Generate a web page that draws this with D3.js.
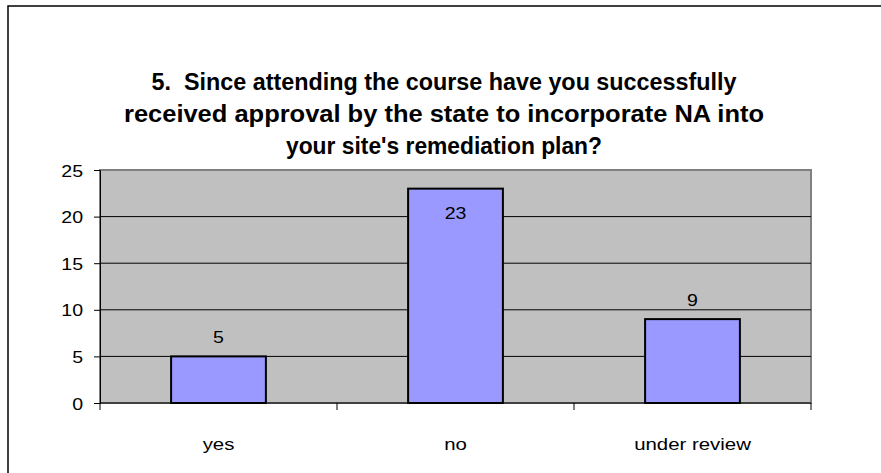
<!DOCTYPE html>
<html>
<head>
<meta charset="utf-8">
<script src="https://cdn.jsdelivr.net/npm/d3@7"></script>
<style>
  body { margin: 0; background: #fff; }
  svg { display: block; font-family: "Liberation Sans", Arial, sans-serif; }
  text { white-space: pre; }
</style>
</head>
<body>
<script>
let categories = ['yes', 'no', 'under review']
let values = [5, 23, 9]
let yTicks = [0, 5, 10, 15, 20, 25]
let titleLines = [
  '5.  Since attending the course have you successfully',
  'received approval by the state to incorporate NA into',
  "your site's remediation plan?"
]
let titleWidths = [585, 640, 316]

let width = 881, height = 473
let plot = {left: 100, top: 170, right: 811, bottom: 403}
let font = '"Liberation Sans", Arial, sans-serif'

let svg = d3.select('body').append('svg')
  .attr('width', width)
  .attr('height', height)

// outer chart frame (runs off right/bottom edge)
svg.append('rect')
  .attr('x', 8).attr('y', 6)
  .attr('width', 900).attr('height', 500)
  .attr('fill', '#fff')
  .attr('stroke', '#000')
  .attr('stroke-width', 1.5)

svg.append('g').selectAll('text').data(titleLines).enter()
  .append('text')
  .attr('x', 444)
  .attr('y', (d, i) => 90 + i * 32)
  .attr('text-anchor', 'middle')
  .attr('font-size', 23)
  .attr('font-weight', 'bold')
  .attr('textLength', (d, i) => titleWidths[i])
  .attr('lengthAdjust', 'spacingAndGlyphs')
  .text(d => d)

let x = d3.scaleBand().domain(categories).range([plot.left, plot.right])
let y = d3.scaleLinear().domain([0, 25]).range([plot.bottom, plot.top])

svg.append('rect')
  .attr('x', plot.left).attr('y', plot.top)
  .attr('width', plot.right - plot.left).attr('height', plot.bottom - plot.top)
  .attr('fill', '#c0c0c0')
  .attr('stroke', '#808080')
  .attr('stroke-width', 2)

svg.append('g').selectAll('line').data(yTicks.slice(1, -1)).enter()
  .append('line')
  .attr('x1', plot.left).attr('x2', plot.right)
  .attr('y1', d => y(d)).attr('y2', d => y(d))
  .attr('stroke', '#000')
  .attr('stroke-width', 1)

let barW = x.bandwidth() / 2.5
svg.append('g').selectAll('rect').data(values).enter()
  .append('rect')
  .attr('x', (d, i) => x(categories[i]) + (x.bandwidth() - barW) / 2)
  .attr('y', d => y(d))
  .attr('width', barW)
  .attr('height', d => y(0) - y(d))
  .attr('fill', '#9999ff')
  .attr('stroke', '#000')
  .attr('stroke-width', 2)

// labels sit above the bar, or inside it when there's no room
svg.append('g').selectAll('text').data(values).enter()
  .append('text')
  .attr('transform', (d, i) => {
    let ty = y(d) - 13
    if (ty - 16 < plot.top) ty = y(d) + 30
    return `translate(${x(categories[i]) + x.bandwidth() / 2},${ty}) scale(1.15,1)`
  })
  .attr('text-anchor', 'middle')
  .attr('font-size', 17)
  .text(d => d)

let yAxis = svg.append('g')
  .attr('transform', `translate(${plot.left},0)`)
  .call(d3.axisLeft(y).tickValues(yTicks).tickSize(6).tickPadding(0))
yAxis.select('.domain').attr('stroke', '#000')
yAxis.selectAll('.tick text').remove()
yAxis.selectAll('.tick').append('text')
  .attr('transform', 'translate(-17,6) scale(1.15,1)')
  .attr('text-anchor', 'end')
  .attr('font-size', 17)
  .attr('font-family', font)
  .attr('fill', '#000')
  .text(d => d)

let xAxis = svg.append('g')
  .attr('transform', `translate(0,${plot.bottom})`)
xAxis.append('line')
  .attr('x1', plot.left).attr('x2', plot.right)
  .attr('stroke', '#000')
xAxis.selectAll('.tk').data(d3.range(categories.length + 1)).enter()
  .append('line')
  .attr('x1', i => plot.left + i * x.step()).attr('x2', i => plot.left + i * x.step())
  .attr('y1', 0).attr('y2', 7)
  .attr('stroke', '#000')
xAxis.selectAll('text').data(categories).enter()
  .append('text')
  .attr('transform', d => `translate(${x(d) + x.bandwidth() / 2},47) scale(1.2,1)`)
  .attr('text-anchor', 'middle')
  .attr('font-size', 17)
  .text(d => d)
</script>
</body>
</html>
